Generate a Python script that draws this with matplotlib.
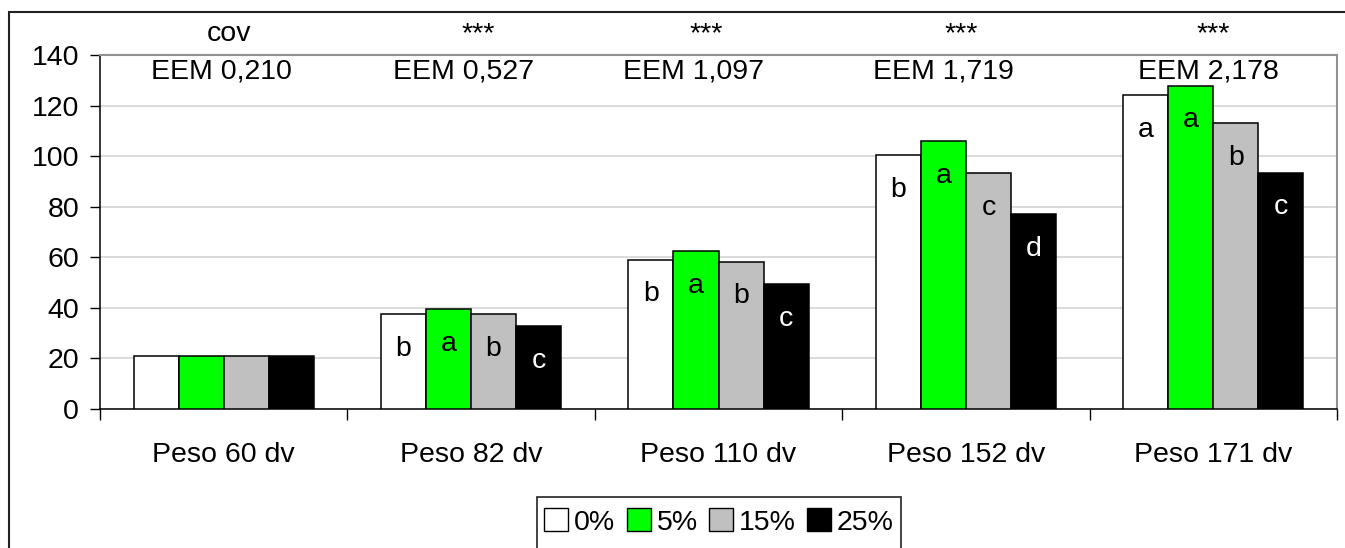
import numpy as np
import matplotlib.pyplot as plt
from matplotlib.patches import Patch, Rectangle

plt.rcParams['font.family'] = ['Liberation Sans', 'DejaVu Sans']

# Data
groups = ["Peso 60 dv", "Peso 82 dv", "Peso 110 dv", "Peso 152 dv", "Peso 171 dv"]
series = ["0%", "5%", "15%", "25%"]
values = {
    "0%": [21, 37.4, 59.1, 100.4, 124.0],
    "5%": [21, 39.6, 62.3, 106.0, 127.9],
    "15%": [21, 37.4, 58.3, 93.4, 113.0],
    "25%": [21, 32.9, 49.3, 77.2, 93.5],
}
letters = {
    "0%": ["", "b", "b", "b", "a"],
    "5%": ["", "a", "a", "a", "a"],
    "15%": ["", "b", "b", "c", "b"],
    "25%": ["", "c", "c", "d", "c"],
}
signif = ["cov", "***", "***", "***", "***"]
eem = ["EEM 0,210", "EEM 0,527", "EEM 1,097", "EEM 1,719", "EEM 2,178"]

# styling
colors = ["#ffffff", "#00ff00", "#c0c0c0", "#000000"]
text_colors = ["black", "black", "black", "white"]
eem_shift = [-0.01, -0.03, -0.10, -0.09, -0.02]
sig_shift = [0.02, 0.03, -0.05, -0.02, 0.0]
fs = 20.5

W, H = 1345, 548
fig = plt.figure(figsize=(W / 100, H / 100), dpi=100)
ax = fig.add_axes([100 / W, 1 - 409 / H, (1337 - 100) / W, (409 - 55) / H])

x = np.arange(len(groups))
bw = 0.182
for j, s in enumerate(series):
    xs = x + (j - 1.5) * bw
    ax.bar(xs, values[s], width=bw, color=colors[j], edgecolor="black",
           linewidth=1.1, zorder=3)
    for xi, v, lab in zip(xs, values[s], letters[s]):
        if lab:
            ax.annotate(lab, (xi, v), xytext=(0, -25), textcoords="offset points",
                        ha="center", va="center", fontsize=fs,
                        color=text_colors[j], zorder=4)

for i in range(len(groups)):
    ax.text(i + eem_shift[i], 133.3, eem[i], ha="center", va="center", fontsize=fs)
    ax.text(i + sig_shift[i], 1.0 + 21 / 354, signif[i], ha="center", va="center",
            fontsize=fs, transform=ax.get_xaxis_transform())

ax.set_xlim(-0.5, len(groups) - 0.5)
ax.set_ylim(0, 140)
ax.set_yticks(np.arange(0, 141, 20))
ax.yaxis.grid(True, color="#d4d4d4", linewidth=1.2, zorder=0)
ax.set_axisbelow(True)

ax.set_xticks(np.arange(-0.5, len(groups), 1.0))
ax.set_xticklabels([])
ax.set_xticks(x, minor=True)
ax.set_xticklabels(groups, minor=True, fontsize=fs)
ax.tick_params(axis="x", which="major", length=8, width=1, color="black")
ax.tick_params(axis="x", which="minor", length=0, pad=24)
ax.tick_params(axis="y", length=7, width=1, labelsize=fs, pad=8)

for side in ["left", "bottom"]:
    ax.spines[side].set_color("black")
    ax.spines[side].set_linewidth(1.1)
for side in ["top", "right"]:
    ax.spines[side].set_color("#909090")
    ax.spines[side].set_linewidth(1.5)

# chart area border (right/bottom edges fall outside the picture)
fig.patches.append(Rectangle((9 / W, -0.2), 1.2, 1.2 - 12 / H,
                             transform=fig.transFigure, fill=False,
                             edgecolor="#222222", linewidth=1.5))

# legend
handles = [Patch(facecolor=c, edgecolor="black", linewidth=1.0) for c in colors]
fig.legend(handles, series, loc="center", ncol=4, frameon=False, fontsize=fs,
           bbox_to_anchor=(719 / W, 1 - 522 / H), handlelength=0.85,
           handleheight=0.85, handletextpad=0.2, columnspacing=0.4)
fig.patches.append(Rectangle((537 / W, -0.2), (901 - 537) / W, 0.2 + 1 - 497 / H,
                             transform=fig.transFigure, fill=False,
                             edgecolor="#222222", linewidth=1.2))

fig.savefig("out.png", dpi=100)
